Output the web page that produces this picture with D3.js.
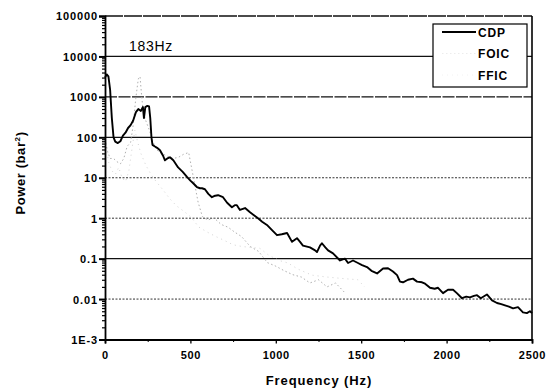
<!DOCTYPE html>
<html><head><meta charset="utf-8">
<script src="https://cdn.jsdelivr.net/npm/d3@7"></script>
<style>
body{margin:0;background:#fff;}
svg{display:block;font-family:"Liberation Sans",Arial,sans-serif;}
</style></head>
<body><svg id="c" width="546" height="391"></svg>
<script>
// ---- data ----
const seriesNames = ["CDP", "FOIC", "FFIC"];
const peakLabel = "183Hz";
const xTickValues = [0, 500, 1000, 1500, 2000, 2500];
const yTickValues = [1e-3, 1e-2, 1e-1, 1, 10, 100, 1000, 10000, 100000];
const yTickLabels = ["1E-3", "0.01", "0.1", "1", "10", "100", "1000", "10000", "100000"];
const gridValues = [1e-2, 1e-1, 1, 10, 100, 1000, 10000];

const cdpFreq = [0,10,20,30,40,50,60,75,90,105,120,135,150,165,181,195,210,222,228,236,248,258,265,272,278,290,305,322,340,351,365,380,400,428,455,480,500,515,538,556,568,585,605,626,645,662,691,715,743,760,772,790,820,849,870,896,920,948,975,1007,1035,1066,1095,1124,1142,1159,1200,1230,1241,1259,1270,1290,1306,1335,1376,1405,1423,1452,1481,1505,1534,1560,1593,1628,1657,1686,1710,1727,1745,1774,1803,1827,1856,1874,1903,1930,1950,1979,2008,2038,2060,2090,2115,2137,2160,2178,2200,2236,2266,2295,2320,2342,2365,2389,2418,2447,2470,2488,2500];
const cdpPower = [3000,3600,3200,1500,300,100,78,72,80,110,130,170,200,260,420,500,450,560,300,560,600,580,300,100,65,60,55,48,35,27,30,32,27,18,14,10.5,8.5,7.4,5.9,5.5,5.5,5.2,4,3.3,3.6,3.7,3.3,2.4,1.87,2.1,2.1,1.6,1.78,1.4,1.2,1.0,0.82,0.68,0.52,0.38,0.4,0.43,0.26,0.32,0.26,0.21,0.19,0.16,0.145,0.21,0.24,0.19,0.16,0.135,0.09,0.1,0.078,0.09,0.078,0.069,0.062,0.05,0.043,0.057,0.058,0.048,0.039,0.027,0.026,0.03,0.032,0.027,0.026,0.024,0.019,0.018,0.019,0.014,0.017,0.017,0.014,0.0105,0.0115,0.011,0.012,0.0125,0.0105,0.013,0.0093,0.008,0.0075,0.007,0.0065,0.0059,0.0063,0.0047,0.0045,0.005,0.0045];

const foicFreq = [0,15,30,50,70,90,110,130,150,165,180,195,205,215,225,240,260,280,300,330,360,400,430,460,490,520,545,570,600,640,680,720,760,800,850,900,950,1000,1050,1100,1150,1200,1250,1300,1350,1400];
const foicPower = [90,45,30,30,25,22,30,60,75,200,900,2800,3200,1000,400,250,150,80,50,40,35,30,32,38,42,9,2.5,1.1,0.9,1.0,0.7,0.6,0.45,0.35,0.2,0.15,0.08,0.065,0.05,0.04,0.035,0.025,0.03,0.02,0.025,0.015];

const fficFreq = [0,20,40,60,80,100,120,140,160,175,190,210,240,270,300,340,380,420,460,500,550,600,650,700,750,800,850,907,960,1020,1071,1130,1212,1300,1400,1481,1520];
const fficPower = [100,25,15,12,18,10,8,15,60,150,80,40,20,12,8,5,3,2,1.5,1.1,0.6,0.45,0.35,0.28,0.22,0.2,0.19,0.18,0.12,0.09,0.078,0.055,0.039,0.035,0.032,0.03,0.02];

// ---- layout ----
const svg = d3.select("#c");
const x = d3.scaleLinear().domain([0, 2500]).range([105, 532]);
const y = d3.scaleLog().domain([1e-3, 1e5]).range([339.5, 16]);

// gridlines
const gridStyle = {1e4:"solid",1e3:"dash",100:"solid",10:"dot",1:"dot",0.1:"solid",0.01:"dot"};
svg.append("g").selectAll("line").data(gridValues).join("line")
  .attr("x1", x(0)).attr("x2", x(2500))
  .attr("y1", d => y(d)).attr("y2", d => y(d))
  .attr("stroke", d => gridStyle[d] === "dot" ? "#333" : "#111")
  .attr("stroke-width", d => gridStyle[d] === "dot" ? 1 : 1.3)
  .attr("stroke-dasharray", d => gridStyle[d] === "dot" ? "2,1.5" : (gridStyle[d] === "dash" ? "12,1.5" : null));

// frame (top & right)
svg.append("line").attr("x1", x(0)).attr("x2", x(2500)).attr("y1", y(1e5)).attr("y2", y(1e5))
  .attr("stroke", "#111").attr("stroke-width", 1.4).attr("stroke-dasharray", "18,1");
svg.append("line").attr("x1", x(2500)).attr("x2", x(2500)).attr("y1", y(1e5)).attr("y2", y(1e-3))
  .attr("stroke", "#000").attr("stroke-width", 1.6);

// faint series
const line = (fx, py) => d3.line().x((d, i) => x(fx[i])).y((d, i) => y(py[i]))(fx);
svg.append("path").attr("d", line(fficFreq, fficPower)).attr("fill", "none")
  .attr("stroke", "#d4d4d4").attr("stroke-width", 1).attr("stroke-dasharray", "1,4");
svg.append("path").attr("d", line(foicFreq, foicPower)).attr("fill", "none")
  .attr("stroke", "#b0b0b0").attr("stroke-width", 1).attr("stroke-dasharray", "1.5,2.5");
// CDP
svg.append("path").attr("d", line(cdpFreq, cdpPower)).attr("fill", "none")
  .attr("stroke", "#000").attr("stroke-width", 1.9).attr("stroke-linejoin", "round");

// axes
const yAxis = d3.axisLeft(y).tickValues(yTickValues).tickSize(6)
  .tickFormat((d, i) => yTickLabels[i]);
const minorY = [];
for (let e = -3; e < 5; e++) for (let k = 2; k <= 9; k++) minorY.push(k * Math.pow(10, e));
const gy = svg.append("g").attr("transform", `translate(${x(0)},0)`).call(yAxis);
svg.append("g").attr("transform", `translate(${x(0)},0)`)
  .call(d3.axisLeft(y).tickValues(minorY).tickSize(3).tickFormat(""))
  .call(g => g.select(".domain").remove())
  .selectAll("line").attr("stroke-width", 1.2);
gy.select(".domain").attr("stroke-width", 1.8);
gy.selectAll(".tick line").attr("stroke-width", 2);
gy.selectAll("text").attr("font-size", 11).attr("font-weight", "bold")
  .attr("letter-spacing", 0.9).attr("x", -7).attr("dy", "0.36em");

const xAxis = d3.axisBottom(x).tickValues(xTickValues).tickSize(4).tickFormat(d3.format("d"));
const gx = svg.append("g").attr("transform", `translate(0,${y(1e-3)})`).call(xAxis);
svg.append("g").attr("transform", `translate(0,${y(1e-3)})`)
  .call(d3.axisBottom(x).tickValues([250, 750, 1250, 1750, 2250]).tickSize(2.5).tickFormat(""))
  .call(g => g.select(".domain").remove());
gx.select(".domain").attr("stroke-width", 1.8);
gx.selectAll(".tick line").attr("stroke-width", 1.3);
gx.selectAll("text").attr("font-size", 11).attr("font-weight", "bold")
  .attr("letter-spacing", 0.7).attr("y", 12);

svg.selectAll(".domain").attr("stroke", "#000");

// axis titles
svg.append("text").attr("x", 319).attr("y", 385).attr("text-anchor", "middle")
  .attr("font-size", 13).attr("font-weight", "bold").attr("letter-spacing", 0.9)
  .text("Frequency (Hz)");
const yt = svg.append("text").attr("transform", "translate(25,173) rotate(-90)")
  .attr("text-anchor", "middle").attr("font-size", 13).attr("font-weight", "bold").attr("letter-spacing", 0.6);
yt.append("tspan").text("Power (bar");
yt.append("tspan").attr("font-size", 8).attr("dy", -5).text("2");
yt.append("tspan").attr("dy", 5).text(")");

// peak label
svg.append("text").attr("x", 129).attr("y", 51).attr("font-size", 14).attr("letter-spacing", 0.7)
  .text(peakLabel);

// legend
const lg = svg.append("g");
lg.append("rect").attr("x", 433).attr("y", 24).attr("width", 94).attr("height", 63)
  .attr("fill", "#fff").attr("stroke", "#000").attr("stroke-width", 1.2);
const swatch = [
  {stroke: "#000", w: 1.9, dash: null},
  {stroke: "#ececec", w: 1, dash: "1.5,2.5"},
  {stroke: "#f2f2f2", w: 1, dash: "1,4"}
];
seriesNames.forEach((name, i) => {
  const yy = 32 + i * 21.5;
  lg.append("line").attr("x1", 442).attr("x2", 476).attr("y1", yy).attr("y2", yy)
    .attr("stroke", swatch[i].stroke).attr("stroke-width", swatch[i].w)
    .attr("stroke-dasharray", swatch[i].dash);
  lg.append("text").attr("x", 478).attr("y", yy + 4.5).attr("font-size", 12)
    .attr("font-weight", "bold").attr("letter-spacing", 0.8).text(name);
});
</script></body></html>
